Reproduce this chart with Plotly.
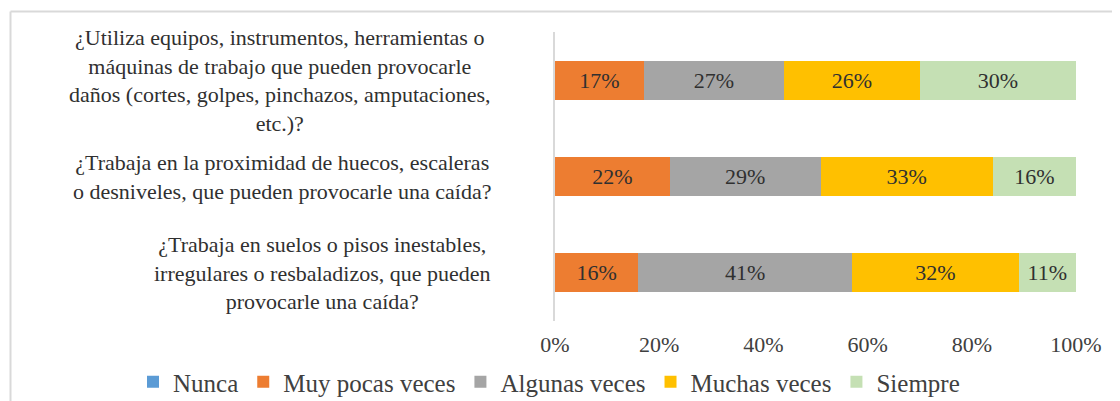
import plotly.graph_objects as go

categories = [
    "¿Utiliza equipos, instrumentos, herramientas o<br>máquinas de trabajo que pueden provocarle<br>daños (cortes, golpes, pinchazos, amputaciones,<br>etc.)?",
    "¿Trabaja en la proximidad de huecos, escaleras<br>o desniveles, que pueden provocarle una caída?",
    "¿Trabaja en suelos o pisos inestables,<br>irregulares o resbaladizos, que pueden<br>provocarle una caída?",
]
series_names = ["Nunca", "Muy pocas veces", "Algunas veces", "Muchas veces", "Siempre"]
nunca = [0, 0, 0]
muy_pocas = [17, 22, 16]
algunas = [27, 29, 41]
muchas = [26, 33, 32]
siempre = [30, 16, 11]
colors = ["#5B9BD5", "#ED7D31", "#A5A5A5", "#FFC000", "#C5E0B4"]
tick_vals = [0, 20, 40, 60, 80, 100]

FONT = "Liberation Serif, Times New Roman, serif"
OFF = 8  # page body margin
W, H = 1120 - OFF, 401 - OFF
ML, MR, MT, MB = 555 - OFF, W - (1076 - OFF), 32 - OFF, H - (321 - OFF)

fig = go.Figure()
for name, vals, col in zip(series_names, [nunca, muy_pocas, algunas, muchas, siempre], colors):
    fig.add_trace(go.Bar(
        name=name, y=list(range(len(categories))), x=vals, orientation="h",
        marker=dict(color=col, line=dict(width=0)),
        text=[f"{v}%" if v > 0 else "" for v in vals],
        textposition="inside", insidetextanchor="middle",
        textfont=dict(family=FONT, size=22, color="#303030"),
        constraintext="none",
    ))

annotations = []
for i, c in enumerate(categories):
    annotations.append(dict(
        text=c, x=0, xref="paper", y=i, yref="y", xanchor="right", yanchor="middle",
        xshift=-62, align="center", showarrow=False,
        font=dict(family=FONT, size=22, color="#303030"),
    ))

pw = W - ML - MR
ph = H - MT - MB
def px2x(px):
    return (px - OFF - ML) / pw
def py2y(py):
    return (H - MB - (py - OFF)) / ph

shapes = [
    dict(type="line", xref="paper", yref="paper", x0=px2x(10.5), x1=px2x(1130), y0=py2y(11.5), y1=py2y(11.5),
         line=dict(color="#d9d9d9", width=2)),
    dict(type="line", xref="paper", yref="paper", x0=px2x(10.5), x1=px2x(10.5), y0=py2y(11.5), y1=py2y(410),
         line=dict(color="#d9d9d9", width=2)),
]

fig.update_layout(
    barmode="stack", bargap=0.595,
    width=W, height=H,
    margin=dict(l=ML, r=MR, t=MT, b=MB, autoexpand=False),
    paper_bgcolor="white", plot_bgcolor="white",
    font=dict(family=FONT, color="#404040"),
    annotations=annotations, shapes=shapes,
    uniformtext=dict(minsize=21, mode="show"),
    legend=dict(orientation="h", xref="paper", yref="paper",
                x=px2x(133), xanchor="left", y=py2y(382), yanchor="middle",
                font=dict(family=FONT, size=25, color="#404040"), traceorder="normal",
                itemwidth=30, itemclick=False),
    xaxis=dict(range=[0, 100], tickvals=tick_vals, ticktext=[f"{v}%" for v in tick_vals],
               showgrid=False, zeroline=False, showline=False, ticks="",
               ticklabelstandoff=8,
               tickfont=dict(family=FONT, size=22, color="#404040"), fixedrange=True),
    yaxis=dict(range=[2.5, -0.5], showticklabels=False, showgrid=False, zeroline=False,
               showline=True, linecolor="#d9d9d9", linewidth=1.5, ticks="", fixedrange=True),
)

fig.write_html("out.html")
